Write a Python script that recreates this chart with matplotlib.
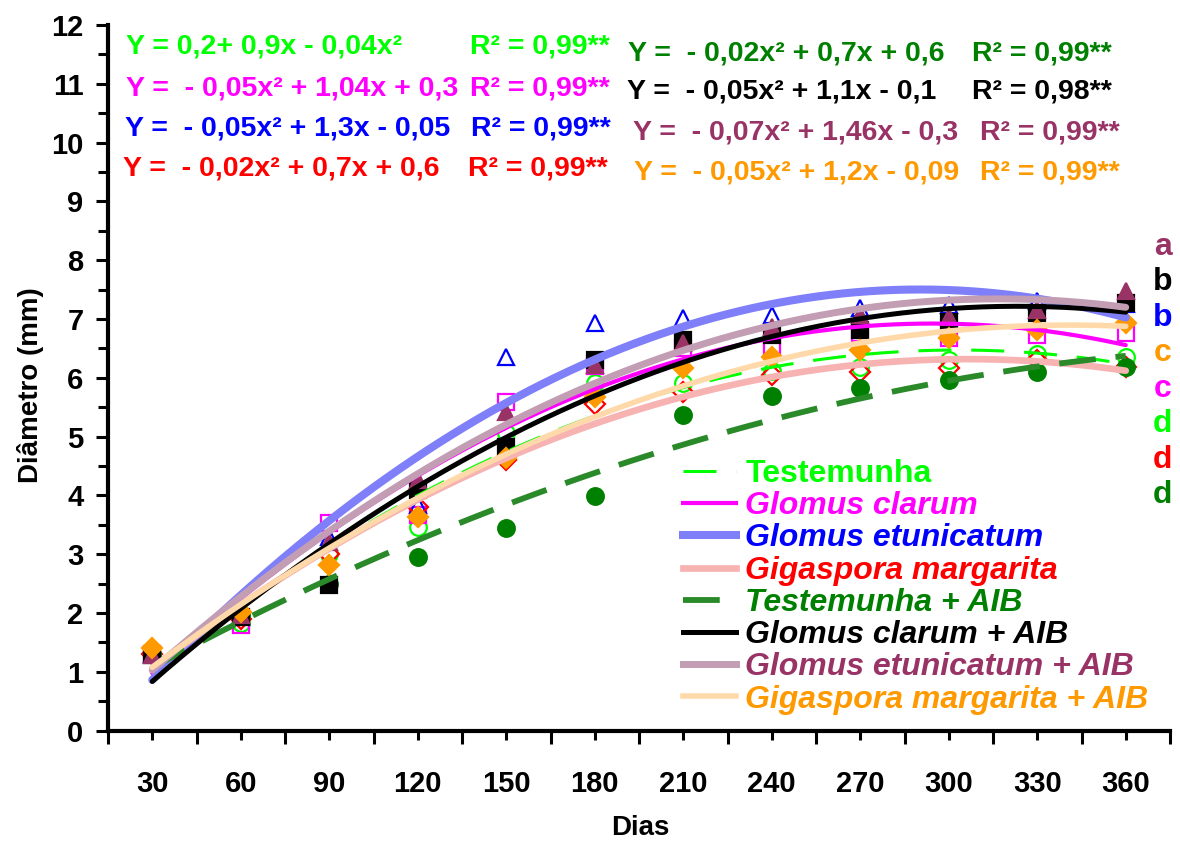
import numpy as np
import matplotlib.pyplot as plt
from matplotlib.lines import Line2D
from matplotlib.ticker import MultipleLocator

plt.rcParams["font.family"] = ["Liberation Sans", "DejaVu Sans"]
plt.rcParams["font.weight"] = "bold"

W, H = 1180, 841

DIAS = [30, 60, 90, 120, 150, 180, 210, 240, 270, 300, 330, 360]

# Mean stem diameter (mm)
TESTEMUNHA = [1.30, 1.83, 3.00, 3.46, 5.06, 5.91, 5.91, 6.12, 6.19, 6.31, 6.40, 6.36]
G_CLARUM = [1.30, 1.80, 3.53, 3.67, 5.59, 6.20, 6.50, 6.53, 6.76, 6.68, 6.73, 6.76]
G_ETUNICATUM = [1.30, 1.95, 3.29, 3.84, 6.36, 6.93, 7.02, 7.07, 7.19, 7.24, 7.30, 7.25]
G_MARGARITA = [1.30, 1.90, 3.00, 3.80, 4.60, 5.56, 5.76, 6.05, 6.10, 6.17, 6.30, 6.18]
TESTEMUNHA_AIB = [1.30, 1.96, 2.50, 2.95, 3.45, 3.99, 5.37, 5.69, 5.83, 5.96, 6.10, 6.19]
G_CLARUM_AIB = [1.29, 1.93, 2.48, 4.09, 4.82, 6.30, 6.64, 6.73, 6.81, 6.95, 7.10, 7.27]
G_ETUNICATUM_AIB = [1.29, 1.96, 3.21, 4.26, 5.42, 6.22, 6.59, 6.87, 7.07, 7.04, 7.16, 7.48]
G_MARGARITA_AIB = [1.41, 2.02, 2.82, 3.63, 4.64, 5.68, 6.17, 6.36, 6.48, 6.68, 6.81, 6.93]

LABELS = ["Testemunha", "Glomus clarum", "Glomus etunicatum", "Gigaspora margarita",
          "Testemunha + AIB", "Glomus clarum + AIB", "Glomus etunicatum + AIB",
          "Gigaspora margarita + AIB"]
VALUES = [TESTEMUNHA, G_CLARUM, G_ETUNICATUM, G_MARGARITA,
          TESTEMUNHA_AIB, G_CLARUM_AIB, G_ETUNICATUM_AIB, G_MARGARITA_AIB]

EQUATIONS_LEFT = [
    ("Y = 0,2+ 0,9x - 0,04x²", "R² = 0,99**"),
    ("Y =  - 0,05x² + 1,04x + 0,3", "R² = 0,99**"),
    ("Y =  - 0,05x² + 1,3x - 0,05", "R² = 0,99**"),
    ("Y =  - 0,02x² + 0,7x + 0,6", "R² = 0,99**"),
]
EQUATIONS_RIGHT = [
    ("Y =  - 0,02x² + 0,7x + 0,6", "R² = 0,99**"),
    ("Y =  - 0,05x² + 1,1x - 0,1", "R² = 0,98**"),
    ("Y =  - 0,07x² + 1,46x - 0,3", "R² = 0,99**"),
    ("Y =  - 0,05x² + 1,2x - 0,09", "R² = 0,99**"),
]
LETTERS = ["a", "b", "b", "c", "c", "d", "d", "d"]

LIME, MAGENTA, BLUE, RED = "#00FF00", "#FF00FF", "#0000FF", "#FF0000"
DKGREEN, BLACK, PURPLE, ORANGE = "#008000", "#000000", "#993366", "#FF9900"

# marker, face, edge, size / trend line colour, width, dashes, italic legend
STYLES = [
    dict(m="o", fc="none", ec=LIME, ms=12, lc=LIME, lw=2.2, dash=(10.8, 6.5), it=False, tc=LIME),
    dict(m="s", fc="none", ec=MAGENTA, ms=11, lc=MAGENTA, lw=3.0, dash=None, it=True, tc=MAGENTA),
    dict(m="^", fc="none", ec=BLUE, ms=12, lc="#7F7FFA", lw=5.8, dash=None, it=True, tc=BLUE),
    dict(m="D", fc="none", ec=RED, ms=10, lc="#F7B2B2", lw=4.8, dash=None, it=True, tc=RED),
    dict(m="o", fc=DKGREEN, ec=DKGREEN, ms=12, lc="#2A8A2A", lw=4.2, dash=(6.3, 3.4), it=True, tc=DKGREEN),
    dict(m="s", fc=BLACK, ec=BLACK, ms=11, lc=BLACK, lw=3.6, dash=None, it=True, tc=BLACK),
    dict(m="^", fc=PURPLE, ec=PURPLE, ms=12, lc="#C29DB3", lw=5.0, dash=None, it=True, tc=PURPLE),
    dict(m="D", fc=ORANGE, ec=ORANGE, ms=10, lc="#FFD9AA", lw=4.0, dash=None, it=True, tc=ORANGE),
]
LETTER_COLORS = [PURPLE, BLACK, BLUE, ORANGE, MAGENTA, LIME, RED, DKGREEN]
LEFT_COLORS = [LIME, MAGENTA, BLUE, RED]
RIGHT_COLORS = [DKGREEN, BLACK, PURPLE, ORANGE]


def px(x, y):
    return x / W, 1 - y / H


fig = plt.figure(figsize=(W / 100, H / 100), dpi=100)
ax = fig.add_axes([108 / W, 1 - 730.7 / H, 1062 / W, 705.7 / H])

x = np.array(DIAS, dtype=float)
xs = np.linspace(x[0], x[-1], 300)
handles = []
for i, (label, vals, st) in enumerate(zip(LABELS, VALUES, STYLES)):
    ax.plot(x, vals, linestyle="none", marker=st["m"], ms=st["ms"],
            mfc=st["fc"], mec=st["ec"], mew=1.6, zorder=2)
    # quadratic trend line, as in the original chart
    coef = np.polyfit(x, vals, 2)
    line, = ax.plot(xs, np.polyval(coef, xs), color=st["lc"], lw=st["lw"],
                    solid_capstyle="round", zorder=3 + i)
    if st["dash"]:
        line.set_dashes(st["dash"])
    handles.append(Line2D([], [], color=st["lc"], lw=st["lw"],
                          dashes=st["dash"] if st["dash"] else (None, None)))

ax.set_xlim(15, 375)
ax.set_ylim(0, 12)
ax.set_xticks(DIAS)
ax.xaxis.set_minor_locator(MultipleLocator(30, offset=15))
ax.yaxis.set_major_locator(MultipleLocator(1))
ax.yaxis.set_minor_locator(MultipleLocator(0.5))
for side in ("top", "right"):
    ax.spines[side].set_visible(False)
for side in ("left", "bottom"):
    ax.spines[side].set_linewidth(3)
ax.tick_params(axis="both", which="both", direction="out", width=2.2, labelsize=21)
ax.tick_params(axis="x", which="major", length=6.5, pad=22)
ax.tick_params(axis="x", which="minor", length=9.5)
ax.tick_params(axis="y", which="major", length=8.6, pad=9)
ax.tick_params(axis="y", which="minor", length=7.2)

ax.set_xlabel("Dias", fontsize=20, fontweight="bold")
ax.set_ylabel("Diâmetro (mm)", fontsize=20, fontweight="bold")
ax.xaxis.set_label_coords(0.501, -0.12)
ax.yaxis.set_label_coords(-0.06, 0.49)

leg = ax.legend(handles, LABELS, loc="upper left", bbox_to_anchor=px(683, 459),
                bbox_transform=fig.transFigure, frameon=False, fontsize=23,
                handlelength=1.65, handletextpad=0.3, labelspacing=0.07,
                borderpad=0, borderaxespad=0)
for txt, st in zip(leg.get_texts(), STYLES):
    txt.set_color(st["tc"])
    txt.set_fontweight("bold")
    if st["it"]:
        txt.set_fontstyle("italic")

for row, ((eq, r2), col) in enumerate(zip(EQUATIONS_LEFT, LEFT_COLORS)):
    yy = [47, 89, 128, 169][row]
    fig.text(*px([126, 126, 125, 122.6][row], yy), eq, color=col, fontsize=20.5,
             fontweight="bold", ha="left", va="center")
    fig.text(*px([469.6, 470, 471, 467.6][row], yy), r2, color=col, fontsize=20.5,
             fontweight="bold", ha="left", va="center")
for row, ((eq, r2), col) in enumerate(zip(EQUATIONS_RIGHT, RIGHT_COLORS)):
    yy = [53.7, 91.7, 132, 172.5][row]
    fig.text(*px([628, 627, 633, 634][row], yy), eq, color=col, fontsize=20.5,
             fontweight="bold", ha="left", va="center")
    fig.text(*px([972, 972, 980, 980][row], yy), r2, color=col, fontsize=20.5,
             fontweight="bold", ha="left", va="center")

for i, (letter, col) in enumerate(zip(LETTERS, LETTER_COLORS)):
    fig.text(*px(1162.7, 246.7 + i * 35.5), letter, color=col, fontsize=23,
             fontweight="bold", ha="center", va="center")

fig.savefig("out.png", dpi=100)
